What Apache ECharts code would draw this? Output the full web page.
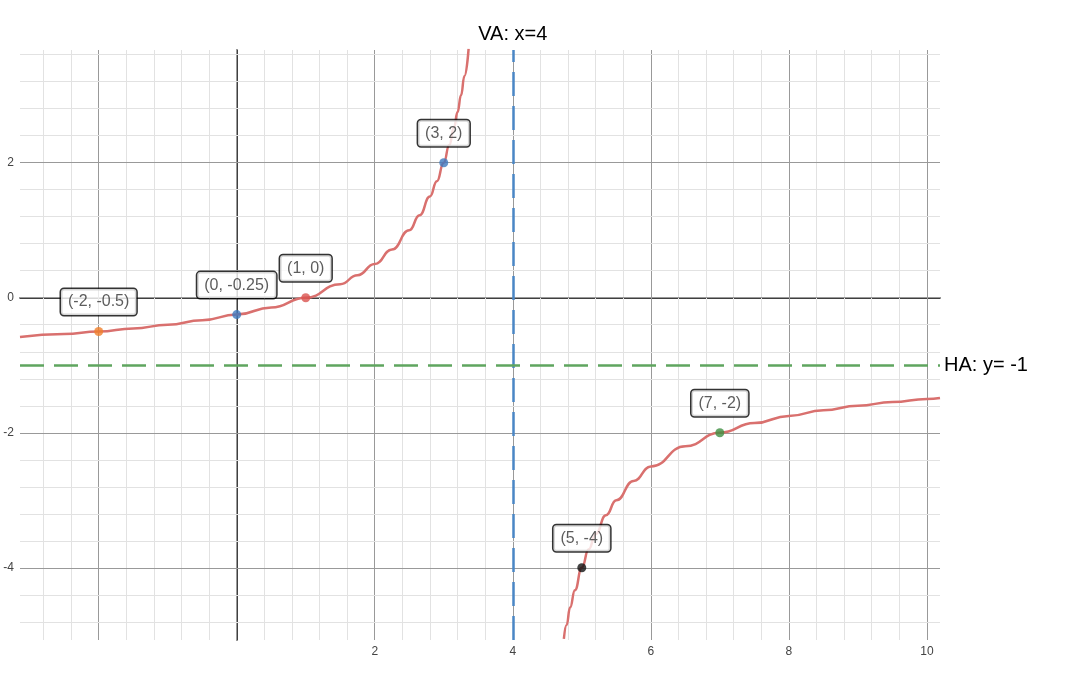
<!DOCTYPE html>
<html><head><meta charset="utf-8">
<script src="https://cdn.jsdelivr.net/npm/echarts@6/dist/echarts.min.js"></script>
<style>html,body{margin:0;background:#fff}#c{width:1072px;height:682px}</style>
</head><body><div id="c"></div>
<script>
const leftBranch = [[-3.14,-0.58],[-2.5,-0.538],[-2,-0.5],[-1.5,-0.455],[-1,-0.4],[-0.5,-0.333],[0,-0.25],[0.5,-0.143],[1,0],[1.5,0.2],[1.75,0.333],[2,0.5],[2.25,0.714],[2.5,1],[2.65,1.222],[2.8,1.5],[2.9,1.727],[3,2],[3.08,2.261],[3.15,2.529],[3.2,2.75],[3.25,3],[3.3,3.286],[3.36,3.69]];
const rightBranch = [[4.74,-5.054],[4.78,-4.846],[4.83,-4.59],[4.9,-4.333],[5,-4],[5.1,-3.727],[5.2,-3.5],[5.35,-3.222],[5.5,-3],[5.75,-2.714],[6,-2.5],[6.5,-2.2],[7,-2],[7.5,-1.857],[8,-1.75],[8.5,-1.667],[9,-1.6],[9.5,-1.545],[10,-1.5],[10.19,-1.485]];
const points = [
  {x:-2,y:-0.5,label:'(-2, -0.5)',color:'#f0802a'},
  {x:0,y:-0.25,label:'(0, -0.25)',color:'#3d78be'},
  {x:1,y:0,label:'(1, 0)',color:'#d9534f'},
  {x:3,y:2,label:'(3, 2)',color:'#3d78be'},
  {x:5,y:-4,label:'(5, -4)',color:'#111111'},
  {x:7,y:-2,label:'(7, -2)',color:'#3e8e41'}
];
const xTickLabels = [2,4,6,8,10];
const yTickLabels = [-4,-2,0,2];
const vaX = 4, haY = -1;
const xMin=-3.14,xMax=10.19,yMin=-5.07,yMax=3.67;

const grid=[];
for(let i=Math.ceil(xMin/0.4);i*0.4<=xMax;i++){const v=+(i*0.4).toFixed(2);const major=Math.abs(v/2-Math.round(v/2))<1e-6;
  grid.push({xAxis:v,lineStyle:{color:major?'#999':'#e2e2e2',width:1,type:'solid'}});}
for(let i=Math.ceil(yMin/0.4);i*0.4<=yMax;i++){const v=+(i*0.4).toFixed(2);const major=Math.abs(v/2-Math.round(v/2))<1e-6;
  grid.push({yAxis:v,lineStyle:{color:major?'#999':'#e2e2e2',width:1,type:'solid'}});}

const chart = echarts.init(document.getElementById('c'));
chart.setOption({
  animation:false,
  grid:{left:20,right:132,top:50,bottom:42},
  xAxis:{type:'value',min:xMin,max:xMax,
    axisLine:{onZero:true,lineStyle:{color:'#000',width:1.5}},axisTick:{show:false},
    axisLabel:{color:'#444',fontSize:12,margin:6,customValues:xTickLabels},
    splitLine:{show:false}},
  yAxis:{type:'value',min:yMin,max:yMax,
    axisLine:{onZero:true,lineStyle:{color:'#000',width:1.5}},axisTick:{show:false},
    axisLabel:{color:'#444',fontSize:12,margin:6,customValues:yTickLabels},
    splitLine:{show:false}},
  series:[
    {type:'line',data:[],z:1,silent:true,markLine:{silent:true,symbol:'none',label:{show:false},data:grid,z:1}},
    {type:'line',data:leftBranch,smooth:true,smoothMonotone:'x',showSymbol:false,lineStyle:{color:'#d9706e',width:2.5},z:3,
      markLine:{silent:true,symbol:'none',z:4,data:[
        {xAxis:vaX,lineStyle:{color:'#4a86c5',width:2.5,type:[24,10]},label:{show:true,position:'end',formatter:'VA: x=4',color:'#000',fontSize:20,distance:6}},
        {yAxis:haY,lineStyle:{color:'#5fa55f',width:2.5,type:[24,10]},label:{show:true,position:'end',formatter:'HA: y= -1',color:'#000',fontSize:20,distance:4}}
      ]}},
    {type:'line',data:rightBranch,smooth:true,smoothMonotone:'x',showSymbol:false,lineStyle:{color:'#d9706e',width:2.5},z:3},
    {type:'scatter',z:5,symbolSize:9,
      data:points.map(p=>({value:[p.x,p.y],itemStyle:{color:p.color},
        label:{show:true,position:'top',distance:12,formatter:p.label,color:'#333',fontSize:16,
          backgroundColor:'#fff',borderColor:'#000',borderWidth:1.5,borderRadius:3,padding:[5,7]}}))}
  ]
});
</script></body></html>
